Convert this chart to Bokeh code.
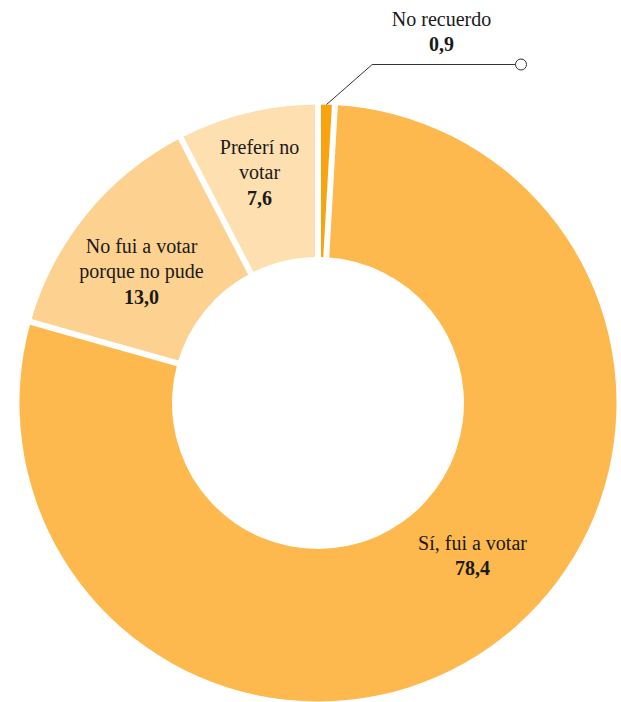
import math
from bokeh.plotting import figure
from bokeh.models import Range1d, ColumnDataSource
from bokeh.core.properties import value
from bokeh.embed import file_html
from bokeh.resources import INLINE

# ---- data ----
categories = ["No recuerdo", "Sí, fui a votar", "No fui a votar porque no pude", "Preferí no votar"]
values = [0.9, 78.4, 13.0, 7.6]
value_labels = ["0,9", "78,4", "13,0", "7,6"]
label_lines = [["No recuerdo"], ["Sí, fui a votar"], ["No fui a votar", "porque no pude"], ["Preferí no", "votar"]]
colors = ["#F9A30F", "#FDB94D", "#FDD190", "#FEDFB0"]

# ---- layout (screen pixel coordinates of the reference) ----
W, H = 621, 702
def sy(y):  # screen y -> data y
    return H - y

cx, cy = 317.5, sy(402.5)
r_out, r_in = 298.5, 146.0
gap = 6
line_step = 25.5
text_shift = 8  # renderer baseline correction
FONT = value("'Liberation Serif', 'Times New Roman', serif")
# label anchors: (center x, baseline of first line) in screen px
label_pos = {
    "No recuerdo": (441, 26),
    "Sí, fui a votar": (472, 550),
    "No fui a votar porque no pude": (141, 253),
    "Preferí no votar": (259, 154),
}

p = figure(width=W, height=H, output_backend="svg", toolbar_location=None,
           x_range=Range1d(0, W), y_range=Range1d(0, H),
           min_border=0)
p.axis.visible = False
p.grid.visible = False
p.outline_line_color = None
p.background_fill_color = "white"

total = sum(values)
starts, ends = [], []
cum = 0.0
for v in values:
    starts.append(math.pi / 2 - 2 * math.pi * cum / total)
    cum += v
    ends.append(math.pi / 2 - 2 * math.pi * cum / total)

src = ColumnDataSource(dict(x=[cx] * len(values), y=[cy] * len(values),
                            start=starts, end=ends, color=colors, cat=categories))
p.annular_wedge(x="x", y="y", inner_radius=r_in, outer_radius=r_out,
                start_angle="start", end_angle="end", direction="clock",
                fill_color="color", line_color=None, source=src)

# white separators between slices
for a in starts:
    p.segment(x0=[cx + (r_in - 2) * math.cos(a)], y0=[cy + (r_in - 2) * math.sin(a)],
              x1=[cx + (r_out + 2) * math.cos(a)], y1=[cy + (r_out + 2) * math.sin(a)],
              line_color="white", line_width=gap, line_cap="butt")

# connector for the smallest slice
i_small = values.index(min(values))
mid = (starts[i_small] + ends[i_small]) / 2
x0 = cx + r_out * math.cos(mid)
y0 = cy + r_out * math.sin(mid)
elbow = (371.7, sy(64))
end = (515.0, sy(64))
p.line(x=[x0, elbow[0], end[0]], y=[y0, elbow[1], end[1]], line_color="#333333", line_width=1)
p.scatter(x=[end[0] + 5.5], y=[end[1]], marker="circle", size=11,
          fill_color="white", line_color="#333333", line_width=1)

# labels
tx, ty, tt, bx, by, bt = [], [], [], [], [], []
for cat, lines, vl in zip(categories, label_lines, value_labels):
    lx, ly = label_pos[cat]
    ly -= text_shift
    for k, ln in enumerate(lines):
        tx.append(lx); ty.append(sy(ly + k * line_step)); tt.append(ln)
    bx.append(lx); by.append(sy(ly + len(lines) * line_step)); bt.append(vl)

p.text(x=tx, y=ty, text=tt, text_font=FONT, text_font_size="20px",
       text_align="center", text_baseline="alphabetic", text_color="#1a1a1a")
p.text(x=bx, y=by, text=bt, text_font=FONT, text_font_size="20px",
       text_font_style="bold", text_align="center", text_baseline="alphabetic", text_color="#1a1a1a")

open("out.html", "w").write(file_html(p, INLINE))
